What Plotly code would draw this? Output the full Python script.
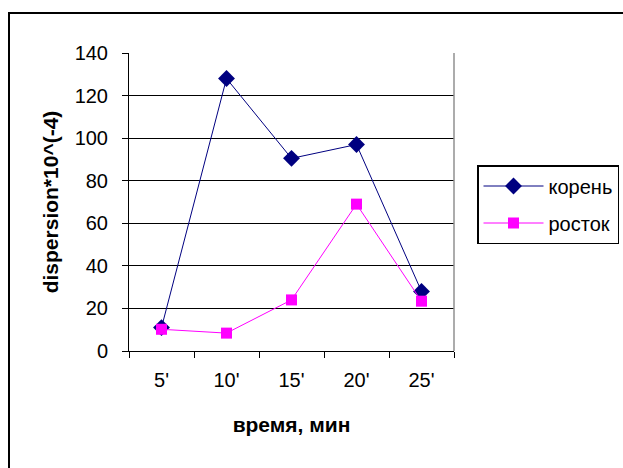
import plotly.graph_objects as go

categories = ["5'", "10'", "15'", "20'", "25'"]
koren = [11, 128, 90.5, 97, 28]
rostok = [10.2, 8.4, 24, 69, 23.4]
y_ticks = [0, 20, 40, 60, 80, 100, 120, 140]

FONT = "Liberation Sans, Arial, sans-serif"
L, T, W, H = 129, 53, 325, 298

def px(x):
    return (x - L) / W

def py(y):
    return (T + H - y) / H

fig = go.Figure()
fig.add_trace(go.Scatter(
    x=categories, y=koren, name="корень", mode="lines+markers",
    line=dict(color="#000080", width=1),
    marker=dict(symbol="diamond", size=13, color="#000080"),
    legendgroup="a",
))
fig.add_trace(go.Scatter(
    x=categories, y=rostok, name="росток", mode="lines+markers",
    line=dict(color="#FF00FF", width=1),
    marker=dict(symbol="square", size=11, color="#FF00FF"),
    legendgroup="b",
))

fig.update_layout(
    width=623, height=468,
    margin=dict(l=L, r=623 - L - W, t=T, b=468 - T - H),
    paper_bgcolor="white", plot_bgcolor="white",
    font=dict(family=FONT, size=20, color="black"),
    showlegend=True,
    legend=dict(
        xref="container", yref="container",
        x=477 / 623, y=1 - 165 / 468, xanchor="left", yanchor="top",
        bordercolor="black", borderwidth=1.5,
        font=dict(family=FONT, size=20, color="black"),
        tracegroupgap=8, traceorder="grouped",
        itemwidth=60,
    ),
    xaxis=dict(
        type="category", tickson="boundaries",
        ticks="outside", ticklen=6, tickcolor="black", tickwidth=1,
        showline=True, linecolor="black", linewidth=1,
        showgrid=False, zeroline=False,
        ticklabelstandoff=11,
        title=dict(text="<b>время, мин</b>", standoff=27,
                   font=dict(family=FONT, size=21)),
        range=[-0.5, 4.5],
    ),
    yaxis=dict(
        range=[0, 140], tickvals=y_ticks,
        ticks="outside", ticklen=6, tickcolor="black", tickwidth=1,
        showline=True, linecolor="black", linewidth=1,
        showgrid=True, gridcolor="black", gridwidth=1,
        zeroline=False,
        ticklabelstandoff=10,
        title=dict(text="<b>dispersion*10^(-4)</b>", standoff=10,
                   font=dict(family=FONT, size=21)),
    ),
    shapes=[
        # outer chart frame (top and left edges visible)
        dict(type="rect", xref="paper", yref="paper",
             x0=px(9), x1=px(700), y0=py(520), y1=py(13),
             line=dict(color="black", width=2), layer="below"),
        # plot area right border
        dict(type="line", xref="paper", yref="paper",
             x0=1, x1=1, y0=0, y1=1,
             line=dict(color="#909090", width=1.5)),
    ],
)

fig.write_html("out.html")
